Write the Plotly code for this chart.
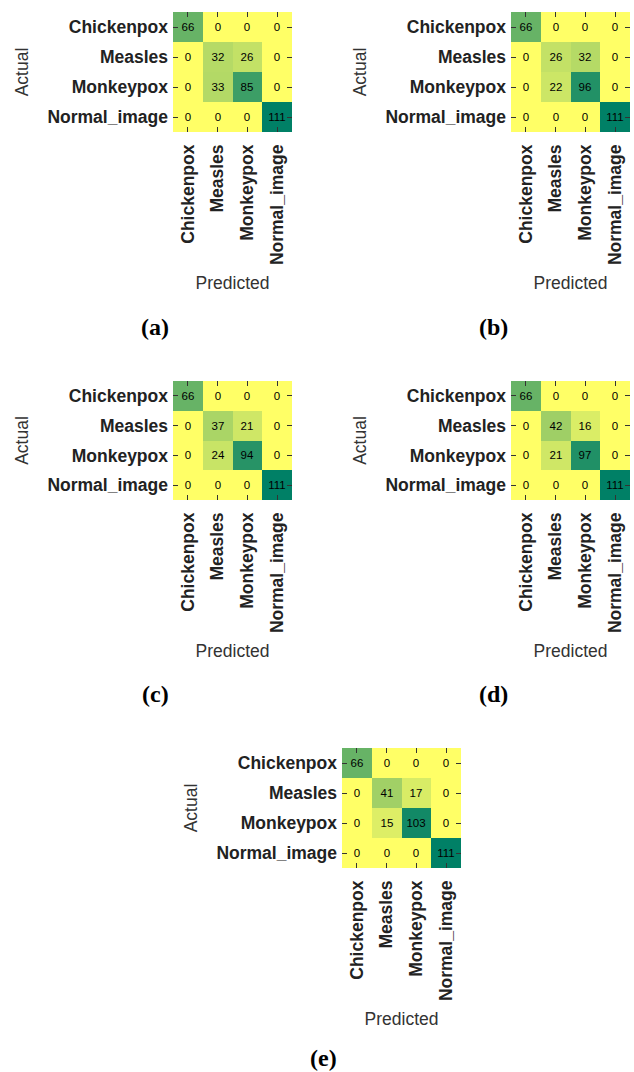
import plotly.graph_objects as go

classes = ["Chickenpox", "Measles", "Monkeypox", "Normal_image"]

cm_a = [[66, 0, 0, 0], [0, 32, 26, 0], [0, 33, 85, 0], [0, 0, 0, 111]]
cm_b = [[66, 0, 0, 0], [0, 26, 32, 0], [0, 22, 96, 0], [0, 0, 0, 111]]
cm_c = [[66, 0, 0, 0], [0, 37, 21, 0], [0, 24, 94, 0], [0, 0, 0, 111]]
cm_d = [[66, 0, 0, 0], [0, 42, 16, 0], [0, 21, 97, 0], [0, 0, 0, 111]]
cm_e = [[66, 0, 0, 0], [0, 41, 17, 0], [0, 15, 103, 0], [0, 0, 0, 111]]

panel_labels = ["(a)", "(b)", "(c)", "(d)", "(e)"]
matrices = [cm_a, cm_b, cm_c, cm_d, cm_e]

W, H = 634, 1072
# heatmap boxes in pixels: left, right, top, bottom
boxes = [
    (173, 292, 12, 132),
    (511, 630, 12, 132),
    (173, 292, 381, 500),
    (511, 630, 381, 500),
    (342, 461, 748, 868),
]
label_pos = [(155, 327), (493, 327), (155, 694), (493, 694), (323, 1058)]

summer_r = [[0.0, "rgb(255,255,102)"], [1.0, "rgb(0,128,102)"]]

fig = go.Figure()
tickfont = dict(family="Liberation Sans, Arial", size=17.5, color="#222", weight="bold")
titlefont = dict(family="Liberation Sans, Arial", size=17.5, color="#333")

for i, (cm, box) in enumerate(zip(matrices, boxes)):
    n = "" if i == 0 else str(i + 1)
    xa, ya = "x" + n, "y" + n
    zmax = max(max(r) for r in cm)
    fig.add_trace(go.Heatmap(
        z=cm, x=classes, y=classes, xaxis=xa, yaxis=ya,
        colorscale=summer_r, zmin=0, zmax=zmax, showscale=False,
        texttemplate="%{z}",
        textfont=dict(family="Liberation Sans, Arial", size=11.5, color="#000"),
        xgap=0, ygap=0,
    ))
    l, r, t, b = box
    fig.update_layout(**{
        "xaxis" + n: dict(
            domain=[l / W, r / W], anchor=ya, ticks="inside", ticklen=5,
            tickcolor="#333", tickwidth=1, mirror="ticks", showline=False,
            tickangle=-90, tickfont=tickfont, showgrid=False, zeroline=False,
            ticklabelstandoff=8,
            title=dict(text="Predicted", font=titlefont, standoff=12),
        ),
        "yaxis" + n: dict(
            domain=[1 - b / H, 1 - t / H], anchor=xa, ticks="inside", ticklen=5,
            tickcolor="#333", tickwidth=1, mirror="ticks", showline=False,
            autorange="reversed", tickfont=tickfont, showgrid=False,
            zeroline=False, ticklabelstandoff=4,
            title=dict(text="Actual", font=titlefont, standoff=14),
        ),
    })

for txt, (px, py) in zip(panel_labels, label_pos):
    fig.add_annotation(
        text="<b>" + txt + "</b>", x=px / W, y=1 - py / H, xref="paper", yref="paper",
        showarrow=False, xanchor="center", yanchor="middle",
        font=dict(family="Liberation Serif, Times New Roman", size=24, color="black"),
    )

fig.update_layout(
    width=W, height=H, margin=dict(l=0, r=0, t=0, b=0),
    paper_bgcolor="white", plot_bgcolor="white", showlegend=False,
)

fig.write_html(
    "out.html",
    config={"displayModeBar": False},
    post_script="document.body.style.margin='0';document.body.style.overflow='hidden';",
)
